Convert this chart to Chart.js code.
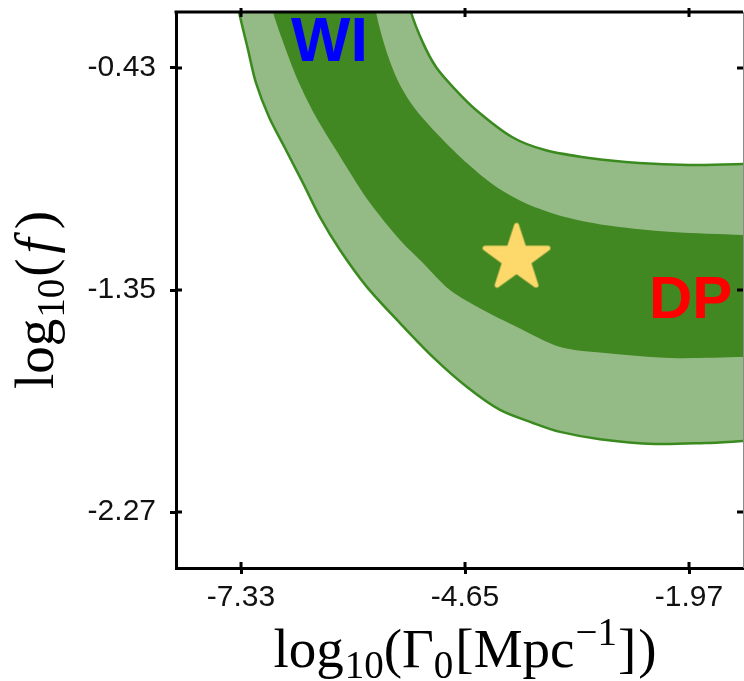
<!DOCTYPE html>
<html>
<head>
<meta charset="utf-8">
<script src="https://cdn.jsdelivr.net/npm/chart.js@4.4.1/dist/chart.umd.min.js"></script>
<style>
  html, body { margin: 0; padding: 0; background: #ffffff; }
  #wrap { width: 744px; height: 681px; }
</style>
</head>
<body>
<div id="wrap"><canvas id="c" width="744" height="681"></canvas></div>
<script>
// Axis ranges and tick values (log10 Γ0 [Mpc^-1] on x, log10 f on y)
const X_RANGE = [-8.108, -1.324];
const Y_RANGE = [-2.502, -0.198];
const X_TICKS = [-7.33, -4.65, -1.97];
const Y_TICKS = [-2.27, -1.35, -0.43];

// Outer (2σ) region: lower-left edge, from the top of the panel to the right side
const outerLowX = [-7.390, -7.354, -7.246, -7.151, -6.995, -6.792, -6.588, -6.385, -6.146, -5.822, -5.428, -5.033, -4.626, -4.231, -3.836, -3.513, -3.035, -2.377, -1.779, -1.324, -1.120];
const outerLowY = [-0.123, -0.198, -0.355, -0.492, -0.633, -0.770, -0.907, -1.048, -1.184, -1.338, -1.487, -1.628, -1.752, -1.847, -1.901, -1.938, -1.968, -1.988, -1.984, -1.976, -1.972];
// Outer (2σ) region: upper-right edge
const outerUpX = [-5.320, -5.296, -5.153, -4.997, -4.794, -4.518, -4.088, -3.693, -3.166, -2.568, -1.970, -1.324, -1.120];
const outerUpY = [-0.123, -0.198, -0.326, -0.426, -0.509, -0.604, -0.716, -0.770, -0.803, -0.824, -0.832, -0.828, -0.828];

// Inner (1σ) region: lower-left edge
const innerLowX = [-6.971, -6.947, -6.792, -6.636, -6.433, -6.193, -5.918, -5.751, -5.428, -5.153, -4.830, -4.435, -4.028, -3.513, -2.975, -2.173, -1.324, -1.120];
const innerLowY = [-0.123, -0.198, -0.355, -0.492, -0.633, -0.770, -0.923, -1.006, -1.143, -1.238, -1.350, -1.433, -1.503, -1.586, -1.611, -1.632, -1.628, -1.628];
// Inner (1σ) region: upper-right edge
const innerUpX = [-5.727, -5.715, -5.595, -5.440, -5.236, -4.913, -4.614, -4.291, -3.932, -3.454, -2.891, -2.173, -1.324, -1.120];
const innerUpY = [-0.123, -0.198, -0.355, -0.492, -0.604, -0.728, -0.828, -0.919, -0.989, -1.047, -1.085, -1.110, -1.122, -1.122];

// Best-fit point
const bestX = [-4.034];
const bestY = [-1.219];

// Region labels
const regionNames = ['WI', 'DP'];
const regionX = [-6.732, -2.449];
const regionY = [-0.401, -1.466];
const regionColors = ['#0000ff', '#ff0000'];
const regionSizes = [63, 60];

// Closed outline: one edge forward, the other edge back
function ring(lx, ly, ux, uy) {
  const pts = lx.map((x, i) => ({ x: x, y: ly[i] }));
  for (let i = ux.length - 1; i >= 0; i--) pts.push({ x: ux[i], y: uy[i] });
  return pts;
}

// Five-pointed star marker with softened tips
function starImage(R, color) {
  const s = Math.ceil(2 * R + 8);
  const c = document.createElement('canvas');
  c.width = s; c.height = s;
  const g = c.getContext('2d');
  g.translate(s / 2, s / 2);
  g.beginPath();
  for (let i = 0; i < 10; i++) {
    const r = i % 2 ? R * 0.382 : R;
    const a = -Math.PI / 2 + i * Math.PI / 5;
    g.lineTo(r * Math.cos(a), r * Math.sin(a));
  }
  g.closePath();
  g.fillStyle = color;
  g.fill();
  g.lineJoin = 'round';
  g.lineWidth = 5;
  g.strokeStyle = color;
  g.stroke();
  return c;
}

const SANS = '"Liberation Sans", Arial, sans-serif';
const SERIF = '"Liberation Serif", "Times New Roman", serif';

// Box on top and right, plus ticks that cross every side
const framePlugin = {
  id: 'frame',
  afterDatasetsDraw(chart) {
    const { ctx, chartArea: a, scales } = chart;
    ctx.save();
    ctx.strokeStyle = '#000';
    ctx.lineWidth = 3;
    ctx.beginPath();
    ctx.moveTo(a.left - 1.5, a.top);
    ctx.lineTo(a.right, a.top);
    ctx.stroke();
    // inward ticks
    ctx.lineWidth = 3;
    X_TICKS.forEach(v => {
      const px = scales.x.getPixelForValue(v);
      ctx.beginPath();
      ctx.moveTo(px, a.bottom); ctx.lineTo(px, a.bottom - 6);
      ctx.moveTo(px, a.top - 4); ctx.lineTo(px, a.top + 5);
      ctx.stroke();
    });
    Y_TICKS.forEach(v => {
      const py = scales.y.getPixelForValue(v);
      ctx.beginPath();
      ctx.moveTo(a.left, py); ctx.lineTo(a.left + 6, py);
      ctx.moveTo(a.right, py); ctx.lineTo(a.right - 6, py);
      ctx.stroke();
    });
    ctx.strokeStyle = '#8a8a8a';
    ctx.lineWidth = 1;
    ctx.beginPath();
    ctx.moveTo(a.right + 0.5, a.top);
    ctx.lineTo(a.right + 0.5, a.bottom);
    ctx.stroke();
    ctx.restore();
  }
};

// WI / DP labels inside the panel
const regionLabelPlugin = {
  id: 'regionLabels',
  afterDatasetsDraw(chart) {
    const { ctx, chartArea: a, scales } = chart;
    ctx.save();
    ctx.beginPath();
    ctx.rect(a.left, a.top + 1.5, a.right - a.left, a.bottom - a.top);
    ctx.clip();
    ctx.textBaseline = 'alphabetic';
    ctx.textAlign = 'left';
    regionNames.forEach((t, i) => {
      ctx.font = 'bold ' + regionSizes[i] + 'px ' + SANS;
      ctx.fillStyle = regionColors[i];
      ctx.fillText(t, scales.x.getPixelForValue(regionX[i]), scales.y.getPixelForValue(regionY[i]));
    });
    ctx.restore();
  }
};

// Axis titles with sub- and superscripts (gap = extra space after a piece)
function pieceWidth(ctx, pieces) {
  let w = 0;
  pieces.forEach(p => { ctx.font = p.font; w += ctx.measureText(p.t).width + (p.gap || 0); });
  return w;
}
function drawPieces(ctx, pieces, x, y) {
  pieces.forEach(p => {
    ctx.font = p.font;
    ctx.fillText(p.t, x, y + (p.dy || 0));
    x += ctx.measureText(p.t).width + (p.gap || 0);
  });
}
const MAIN = '55px ' + SERIF;
const SUB = '39px ' + SERIF;
const ITAL = 'italic 55px ' + SERIF;
const xTitle = [
  { t: 'log', font: MAIN, gap: 1 }, { t: '10', font: SUB, dy: 11 },
  { t: '(', font: MAIN }, { t: 'Γ', font: MAIN }, { t: '0', font: SUB, dy: 11, gap: 2 },
  { t: '[', font: MAIN }, { t: 'Mpc', font: MAIN, gap: 1 }, { t: '−1', font: SUB, dy: -22, gap: 1 },
  { t: ']', font: MAIN, gap: 2 }, { t: ')', font: MAIN }
];
const yTitle = [
  { t: 'log', font: MAIN, gap: 1 }, { t: '10', font: SUB, dy: 11, gap: 2 },
  { t: '(', font: MAIN, gap: 5 }, { t: 'f', font: ITAL, gap: 9 }, { t: ')', font: MAIN }
];
const titlePlugin = {
  id: 'axisTitles',
  afterDraw(chart) {
    const { ctx } = chart;
    ctx.save();
    ctx.fillStyle = '#000';
    ctx.textBaseline = 'alphabetic';
    ctx.textAlign = 'left';
    const wx = pieceWidth(ctx, xTitle);
    drawPieces(ctx, xTitle, 465 - wx / 2, 667);
    const wy = pieceWidth(ctx, yTitle);
    ctx.translate(53, 300);
    ctx.rotate(-Math.PI / 2);
    drawPieces(ctx, yTitle, -wy / 2, 0);
    ctx.restore();
  }
};

function axisOptions(range, ticks, isX) {
  return {
    type: 'linear',
    min: range[0],
    max: range[1],
    afterBuildTicks(scale) { scale.ticks = ticks.map(v => ({ value: v })); },
    afterFit(scale) {
      if (isX) scale.height = 113; else scale.width = 176;
      scale.paddingTop = 0; scale.paddingBottom = 0;
      scale.paddingLeft = 0; scale.paddingRight = 0;
    },
    grid: { drawOnChartArea: false, drawTicks: true, tickLength: 6, tickWidth: 3, tickColor: '#000', color: '#000' },
    border: { display: true, color: '#000', width: 3 },
    ticks: {
      autoSkip: false, maxRotation: 0, minRotation: 0,
      padding: isX ? 6 : 14,
      color: '#111',
      font: { family: SANS, size: 30 },
      callback: v => v.toFixed(2)
    }
  };
}

new Chart(document.getElementById('c'), {
  type: 'scatter',
  data: {
    datasets: [
      {
        data: ring(outerLowX, outerLowY, outerUpX, outerUpY),
        showLine: true, fill: 'shape', tension: 0.3,
        backgroundColor: '#94bb86', borderColor: '#3b8a1f', borderWidth: 2.5,
        pointRadius: 0, order: 3
      },
      {
        data: ring(innerLowX, innerLowY, innerUpX, innerUpY),
        showLine: true, fill: 'shape', tension: 0.3,
        backgroundColor: '#418722', borderColor: '#418722', borderWidth: 0,
        pointRadius: 0, order: 2
      },
      {
        data: bestX.map((x, i) => ({ x: x, y: bestY[i] })),
        showLine: false, pointStyle: starImage(33, '#fdd86a'), pointRadius: 36,
        order: 1
      }
    ]
  },
  options: {
    responsive: false,
    animation: false,
    events: [],
    layout: { autoPadding: false, padding: { top: 12, right: 1, left: 0, bottom: 0 } },
    plugins: { legend: { display: false }, tooltip: { enabled: false } },
    scales: {
      x: axisOptions(X_RANGE, X_TICKS, true),
      y: axisOptions(Y_RANGE, Y_TICKS, false)
    }
  },
  plugins: [framePlugin, regionLabelPlugin, titlePlugin]
});
</script>
</body>
</html>
